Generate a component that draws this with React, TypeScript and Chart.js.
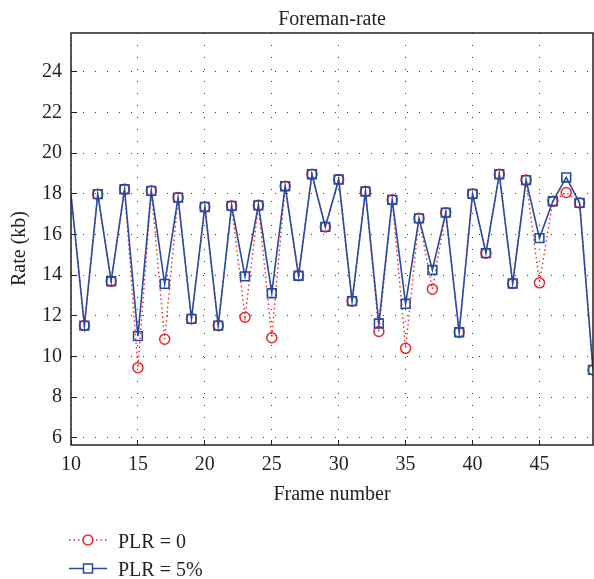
import React, { useEffect, useRef } from 'react';
import { Chart, registerables } from 'chart.js';

Chart.register(...registerables);

// ---- data ----
const frames = [
  10, 11, 12, 13, 14, 15, 16, 17, 18, 19,
  20, 21, 22, 23, 24, 25, 26, 27, 28, 29,
  30, 31, 32, 33, 34, 35, 36, 37, 38, 39,
  40, 41, 42, 43, 44, 45, 46, 47, 48, 49,
];
const ratePlr0 = [
  17.95, 11.52, 17.98, 13.7, 18.22, 9.45, 18.14, 10.85, 17.81, 11.85,
  17.35, 11.52, 17.4, 11.93, 17.43, 10.92, 18.37, 13.97, 18.96, 16.37,
  18.7, 12.72, 18.11, 11.23, 17.7, 10.4, 16.79, 13.31, 17.07, 11.19,
  17.99, 15.08, 18.96, 13.59, 18.67, 13.62, 17.63, 18.06, 17.55, 9.34,
];
const ratePlr5 = [
  17.95, 11.52, 17.98, 13.7, 18.22, 11.0, 18.14, 13.57, 17.81, 11.85,
  17.35, 11.52, 17.4, 13.94, 17.43, 13.11, 18.37, 13.97, 18.96, 16.37,
  18.7, 12.72, 18.11, 11.62, 17.7, 12.59, 16.79, 14.25, 17.07, 11.19,
  17.99, 15.08, 18.96, 13.59, 18.67, 15.82, 17.63, 18.8, 17.55, 9.34,
];
const xTicks = [10, 15, 20, 25, 30, 35, 40, 45];
const yTicks = [6, 8, 10, 12, 14, 16, 18, 20, 22, 24];
const seriesNames = ['PLR = 0', 'PLR = 5%'];
const chartTitle = 'Foreman-rate';
const xTitle = 'Frame number';
const yTitle = 'Rate (kb)';

// ---- styles ----
const RED = '#e8282c';
const BLUE = '#2a4aa0';
const INK = '#231f20';
const FONT = "'Liberation Serif', 'Times New Roman', serif";

const decor = {
  id: 'decor',
  afterDatasetsDraw(chart: any) {
    const { ctx, chartArea: a } = chart;
    ctx.save();
    ctx.strokeStyle = INK;
    ctx.lineWidth = 1.5;
    ctx.setLineDash([]);
    ctx.strokeRect(a.left, a.top, a.right - a.left, a.bottom - a.top);
    ctx.restore();
  },
  afterDraw(chart: any) {
    const { ctx, chartArea: a } = chart;
    ctx.save();
    ctx.fillStyle = INK;
    ctx.font = `20px ${FONT}`;
    // chart title
    ctx.textAlign = 'center';
    ctx.textBaseline = 'alphabetic';
    ctx.fillText(chartTitle, (a.left + a.right) / 2, a.top - 8.5);
    // y axis title
    ctx.save();
    ctx.translate(a.left - 46, (a.top + a.bottom) / 2 + 9.5);
    ctx.rotate(-Math.PI / 2);
    ctx.fillText(yTitle, 0, 0);
    ctx.restore();
    // legend
    const rows = [a.bottom + 95, a.bottom + 123.5];
    const x0 = 69, x1 = 107, xm = 88;
    // PLR = 0
    ctx.strokeStyle = RED;
    ctx.lineWidth = 1.3;
    ctx.setLineDash([1.5, 3]);
    ctx.beginPath();
    ctx.moveTo(x0, rows[0]);
    ctx.lineTo(x1, rows[0]);
    ctx.stroke();
    ctx.setLineDash([]);
    ctx.lineWidth = 1.5;
    ctx.fillStyle = '#ffffff';
    ctx.beginPath();
    ctx.arc(xm, rows[0], 5, 0, Math.PI * 2);
    ctx.fill();
    ctx.stroke();
    // PLR = 5%
    ctx.strokeStyle = BLUE;
    ctx.lineWidth = 1.5;
    ctx.beginPath();
    ctx.moveTo(x0, rows[1]);
    ctx.lineTo(x1, rows[1]);
    ctx.stroke();
    ctx.fillStyle = '#ffffff';
    ctx.fillRect(xm - 4.5, rows[1] - 4.5, 9, 9);
    ctx.strokeRect(xm - 4.5, rows[1] - 4.5, 9, 9);
    ctx.fillStyle = INK;
    ctx.textAlign = 'left';
    ctx.fillText(seriesNames[0], 118, rows[0] + 7.5);
    ctx.fillText(seriesNames[1], 118, rows[1] + 7.5);
    ctx.restore();
  },
};

export default function App() {
  const ref = useRef<HTMLCanvasElement | null>(null);

  useEffect(() => {
    if (!ref.current) return;
    const tickFont = { family: FONT, size: 20 };
    const gridCommon = {
      color: '#3a3a3a',
      lineWidth: 1,
      drawTicks: true,
      tickColor: INK,
      tickWidth: 1,
      tickBorderDash: [],
    };
    const chart = new Chart(ref.current, {
      type: 'line',
      data: {
        datasets: [
          {
            label: seriesNames[1],
            data: frames.map((f, i) => ({ x: f, y: ratePlr5[i] })),
            borderColor: BLUE,
            borderWidth: 1.6,
            pointStyle: 'rect',
            pointRadius: (c: any) => (c.dataIndex === 0 ? 0 : 6.2),
            pointBorderColor: BLUE,
            pointBackgroundColor: 'rgba(255,255,255,0)',
            pointBorderWidth: 1.6,
            tension: 0,
            order: 0,
          },
          {
            label: seriesNames[0],
            data: frames.map((f, i) => ({ x: f, y: ratePlr0[i] })),
            borderColor: RED,
            borderWidth: 1.4,
            borderDash: [1.5, 3],
            pointStyle: 'circle',
            pointRadius: (c: any) => (c.dataIndex === 0 ? 0 : 5),
            pointBorderColor: RED,
            pointBackgroundColor: 'rgba(255,255,255,0)',
            pointBorderWidth: 1.5,
            tension: 0,
            order: 1,
          },
        ],
      },
      options: {
        responsive: false,
        animation: false,
        devicePixelRatio: 1,
        layout: { autoPadding: false, padding: { top: 33, right: 1, bottom: 70, left: 0 } },
        plugins: {
          legend: { display: false },
          title: { display: false },
          tooltip: { enabled: false },
        },
        scales: {
          x: {
            type: 'linear',
            min: 10,
            max: 49,
            afterBuildTicks: (s: any) => {
              s.ticks = xTicks.map((v) => ({ value: v }));
            },
            afterFit: (s: any) => {
              s.height = 64;
              s.paddingLeft = 0;
              s.paddingRight = 0;
            },
            grid: { ...gridCommon, tickLength: -5 },
            border: { display: false, dash: [1, 11] },
            ticks: {
              padding: 13,
              color: INK,
              font: tickFont,
              maxRotation: 0,
              autoSkip: false,
            },
            title: {
              display: true,
              text: xTitle,
              color: INK,
              font: tickFont,
              padding: { top: 0, bottom: 2 },
            },
          },
          y: {
            type: 'linear',
            min: 5.65,
            max: 25.9,
            afterBuildTicks: (s: any) => {
              s.ticks = yTicks.map((v) => ({ value: v }));
            },
            afterFit: (s: any) => {
              s.width = 71;
              s.paddingTop = 0;
              s.paddingBottom = 0;
            },
            grid: { ...gridCommon, tickLength: -6 },
            border: { display: false, dash: [1, 11] },
            ticks: {
              padding: 15,
              color: INK,
              font: tickFont,
            },
            title: { display: false },
          },
        },
      } as any,
      plugins: [decor],
    });
    return () => chart.destroy();
  }, []);

  return (
    <div style={{ position: 'fixed', left: 0, top: 0, width: 594, height: 579, background: '#fff' }}>
      <canvas ref={ref} width={594} height={579} style={{ display: 'block' }} />
    </div>
  );
}
